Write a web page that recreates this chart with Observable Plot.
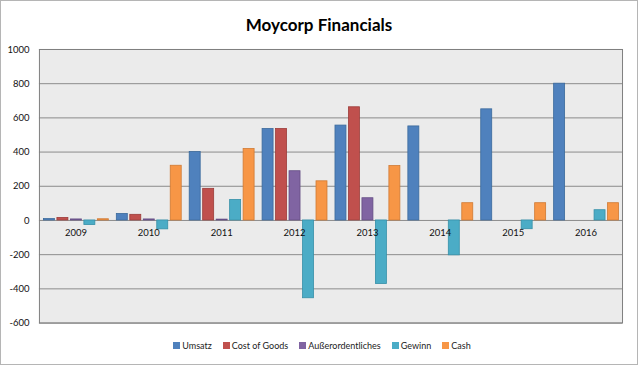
<!DOCTYPE html>
<html>
<head>
<meta charset="utf-8">
<script src="https://cdn.jsdelivr.net/npm/d3@7"></script>
<script src="https://cdn.jsdelivr.net/npm/@observablehq/plot@0.6"></script>
<style>
  html, body { margin: 0; padding: 0; background: #fff; }
  #wrap { position: relative; width: 636px; height: 363px; border: 1px solid #b5b5b5; background: #fff; font-family: Lato, "Open Sans", sans-serif; overflow: hidden; }
  #title { height: 40px; line-height: 40px; text-align: center; font-weight: bold; font-size: 17px; color: #000; padding-top: 4px; box-sizing: border-box; }
  #chart { position: absolute; left: -1px; top: 39px; }
  #legend { position: absolute; top: 339px; left: 0; width: 636px; display: flex; justify-content: center; gap: 11px; font-size: 9px; color: #222; padding-left: 6px; box-sizing: border-box; }
  .item { display: flex; align-items: center; gap: 2px; }
  .sw { width: 7px; height: 7px; display: inline-block; }
</style>
</head>
<body>
<div id="wrap">
  <div id="title">Moycorp Financials</div>
  <div id="chart"></div>
  <div id="legend"></div>
</div>
<script>
const years = ["2009", "2010", "2011", "2012", "2013", "2014", "2015", "2016"];
const seriesNames = ["Umsatz", "Cost of Goods", "Außerordentliches", "Gewinn", "Cash"];
const umsatz = [8, 38, 400, 535, 555, 550, 650, 800];
const costOfGoods = [15, 33, 185, 535, 662, null, null, null];
const ausserordentliches = [6, 6, 5, 288, 130, null, null, null];
const gewinn = [-27, -52, 120, -455, -372, -204, -51, 60];
const cash = [7, 320, 418, 229, 318, 101, 101, 101];
const yTicks = [-600, -400, -200, 0, 200, 400, 600, 800, 1000];

const seriesValues = [umsatz, costOfGoods, ausserordentliches, gewinn, cash];
const fills = ["#4f81bd", "#c0504d", "#8064a2", "#4bacc6", "#f79646"];
const strokes = ["#3b6a9c", "#9c3c3a", "#644d84", "#3690a8", "#d07a33"];

const rows = [];
seriesNames.forEach((name, si) => {
  years.forEach((yr, yi) => {
    rows.push({series: name, year: yr, value: seriesValues[si][yi]});
  });
});

const W = 638, ML = 39, MR = 15;
const bw = (W - ML - MR) / years.length;
const barW = 11, step = 13.5, first = 4.5;

const barMarks = seriesNames.map((name, i) => {
  const il = first + step * i;
  return Plot.barY(rows.filter(r => r.series === name && r.value != null), {
    x: "year", y: "value",
    fill: fills[i], stroke: strokes[i], strokeWidth: 0.8,
    insetLeft: il, insetRight: bw - il - barW
  });
});

const chart = Plot.plot({
  width: W,
  height: 296,
  marginLeft: ML,
  marginRight: MR,
  marginTop: 9,
  marginBottom: 13,
  style: {fontFamily: "Lato, 'Open Sans', sans-serif", background: "transparent"},
  x: {domain: years, padding: 0, axis: null},
  y: {domain: [-600, 1000], axis: null},
  marks: [
    Plot.frame({fill: "#ebebeb", stroke: null}),
    Plot.ruleY(yTicks, {stroke: "#8c8c8c", strokeWidth: 1}),
    ...barMarks,
    Plot.text(years, {x: d => d, y: 0, dy: 13, fontSize: 9.5, fill: "#111"}),
    Plot.frame({stroke: "#7f7f7f", strokeWidth: 1}),
    Plot.axisY(yTicks, {tickSize: 0, tickPadding: 10, fontSize: 9.5, fill: "#111", label: null, tickFormat: d => String(d)})
  ]
});
document.getElementById("chart").appendChild(chart);

const legend = document.getElementById("legend");
seriesNames.forEach((name, i) => {
  const it = document.createElement("div");
  it.className = "item";
  const sw = document.createElement("span");
  sw.className = "sw";
  sw.style.background = fills[i];
  it.appendChild(sw);
  const t = document.createElement("span");
  t.textContent = name;
  it.appendChild(t);
  legend.appendChild(it);
});
</script>
</body>
</html>
